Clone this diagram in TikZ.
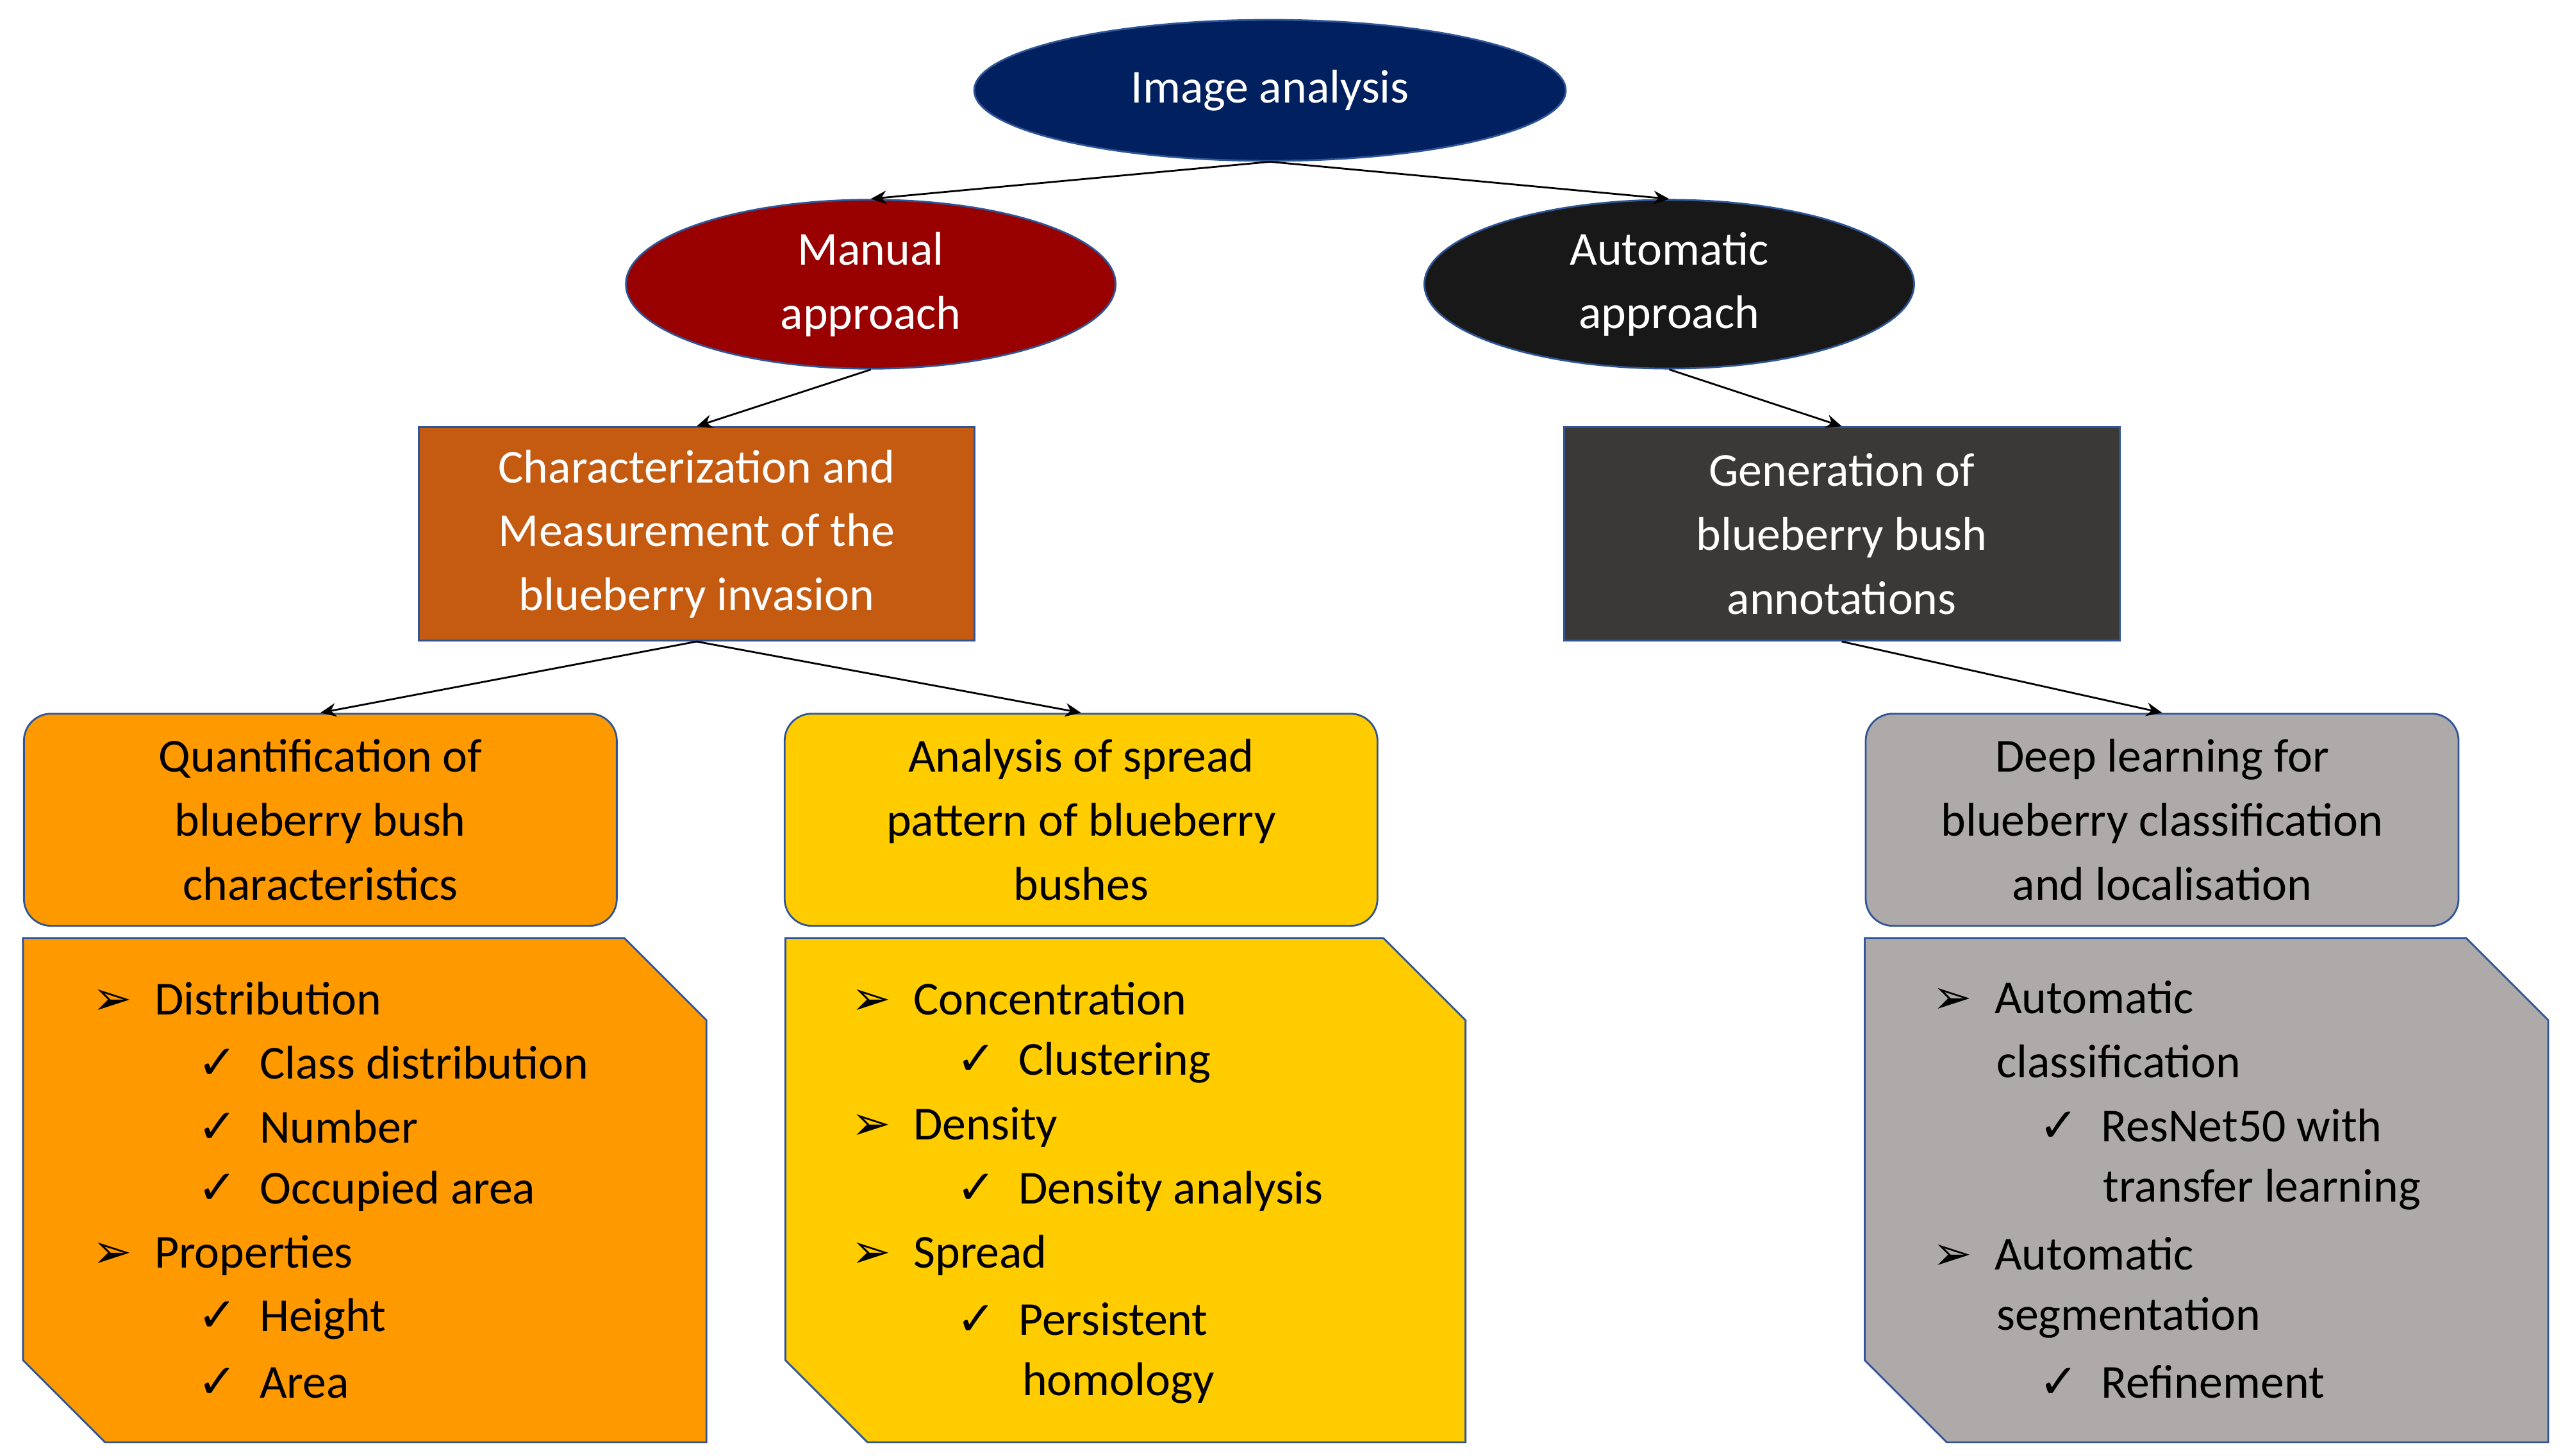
\documentclass[tikz,border=0pt]{standalone}
\usepackage{fontspec}
\setmainfont{Carlito}
\newfontfamily\symfont{DejaVu Sans}
\usetikzlibrary{positioning,shapes.geometric,arrows.meta}
\definecolor{navy}{RGB}{0,32,96}
\definecolor{darkred}{RGB}{153,0,0}
\definecolor{nearblack}{RGB}{24,24,24}
\definecolor{rust}{RGB}{197,90,17}
\definecolor{charcoal}{RGB}{59,56,56}
\definecolor{orng}{RGB}{255,153,0}
\definecolor{yell}{RGB}{255,204,0}
\definecolor{greybox}{RGB}{174,170,170}
\definecolor{edge}{RGB}{47,85,151}
\newcommand{\bul}{{\symfont ➢}}
\newcommand{\chk}{{\symfont ✓}}
\tikzstyle{arrow} = [thick, -{Stealth[length=7pt,width=6pt]}]
\begin{document}
\begin{tikzpicture}[x=0.02564cm, y=-0.02564cm,
    every node/.style={font=\fontsize{21}{28.4}\selectfont, align=center},
    oval/.style={ellipse, draw=edge, thick, text=white},
    block/.style={rectangle, draw=edge, thick, text=white, minimum width=8.67cm, minimum height=3.33cm},
    task/.style={rectangle, rounded corners=12pt, draw=edge, thick, minimum width=9.25cm, minimum height=3.31cm},
    snip/.style={draw=edge, thick},
    item/.style={anchor=west, align=left, inner sep=0pt}
    ]
    \useasboundingbox (0,0) rectangle (1560,886);

    % ovals
    \node[oval, fill=navy, minimum width=9.23cm, minimum height=2.2cm] (image) at (773,55) {Image analysis};
    \node[oval, fill=darkred, minimum width=7.64cm, minimum height=2.15cm] (manual) at (530,173) {Manual\\approach};
    \node[oval, fill=nearblack, minimum width=7.64cm, minimum height=2.15cm] (auto) at (1016,173) {Automatic\\approach};

    % blocks
    \node[block, fill=rust] (charact) at (424,325) {Characterization and\\Measurement of the\\blueberry invasion};
    \node[block, fill=charcoal] (generation) at (1121,325) {Generation of\\blueberry bush\\annotations};

    % tasks
    \node[task, fill=orng] (quant) at (195,499) {Quantification of\\blueberry bush\\characteristics};
    \node[task, fill=yell] (spread) at (658,499) {Analysis of spread\\pattern of blueberry\\bushes};
    \node[task, fill=greybox] (deep) at (1316,499) {Deep learning for\\blueberry classification\\and localisation};

    % arrows
    \draw[arrow] (image.south) -- (manual.north);
    \draw[arrow] (image.south) -- (auto.north);
    \draw[arrow] (manual.south) -- (charact.north);
    \draw[arrow] (auto.south) -- (generation.north);
    \draw[arrow] (charact.south) -- (quant.north);
    \draw[arrow] (charact.south) -- (spread.north);
    \draw[arrow] (generation.south) -- (deep.north);

    % snipped panels
    \fill[orng] (14,571) -- (380,571) -- (430,621) -- (430,878) -- (64,878) -- (14,828) -- cycle;
    \draw[snip] (14,571) -- (380,571) -- (430,621) -- (430,878) -- (64,878) -- (14,828) -- cycle;
    \fill[yell] (478,571) -- (842,571) -- (892,621) -- (892,878) -- (528,878) -- (478,828) -- cycle;
    \draw[snip] (478,571) -- (842,571) -- (892,621) -- (892,878) -- (528,878) -- (478,828) -- cycle;
    \fill[greybox] (1135,571) -- (1501,571) -- (1551,621) -- (1551,878) -- (1185,878) -- (1135,828) -- cycle;
    \draw[snip] (1135,571) -- (1501,571) -- (1551,621) -- (1551,878) -- (1185,878) -- (1135,828) -- cycle;

    % orange list
    \node[item] (q1) at (56,608) {\bul\hspace{0.35cm}Distribution};
    \node[item] (q2) at (120,647) {\chk\hspace{0.35cm}Class distribution};
    \node[item] (q3) at (120,686) {\chk\hspace{0.35cm}Number};
    \node[item] (q4) at (120,725) {\chk\hspace{0.35cm}Occupied area};
    \node[item] (q5) at (56,764) {\bul\hspace{0.35cm}Properties};
    \node[item] (q6) at (120,803) {\chk\hspace{0.35cm}Height};
    \node[item] (q7) at (120,842) {\chk\hspace{0.35cm}Area};

    % yellow list
    \node[item] (s1) at (518,608) {\bul\hspace{0.35cm}Concentration};
    \node[item] (s2) at (582,647) {\chk\hspace{0.35cm}Clustering};
    \node[item] (s3) at (518,686) {\bul\hspace{0.35cm}Density};
    \node[item] (s4) at (582,725) {\chk\hspace{0.35cm}Density analysis};
    \node[item] (s5) at (518,764) {\bul\hspace{0.35cm}Spread};
    \node[item] (s6) at (582,803) {\chk\hspace{0.35cm}Persistent};
    \node[item] (s7) at (622,842) {homology};

    % grey list
    \node[item] (d1) at (1176,607) {\bul\hspace{0.35cm}Automatic};
    \node[item] (d2) at (1215,646) {classification};
    \node[item] (d3) at (1241,685) {\chk\hspace{0.35cm}ResNet50 with};
    \node[item] (d4) at (1280,724) {transfer learning};
    \node[item] (d5) at (1176,763) {\bul\hspace{0.35cm}Automatic};
    \node[item] (d6) at (1215,802) {segmentation};
    \node[item] (d7) at (1241,841) {\chk\hspace{0.35cm}Refinement};
\end{tikzpicture}
\end{document}
